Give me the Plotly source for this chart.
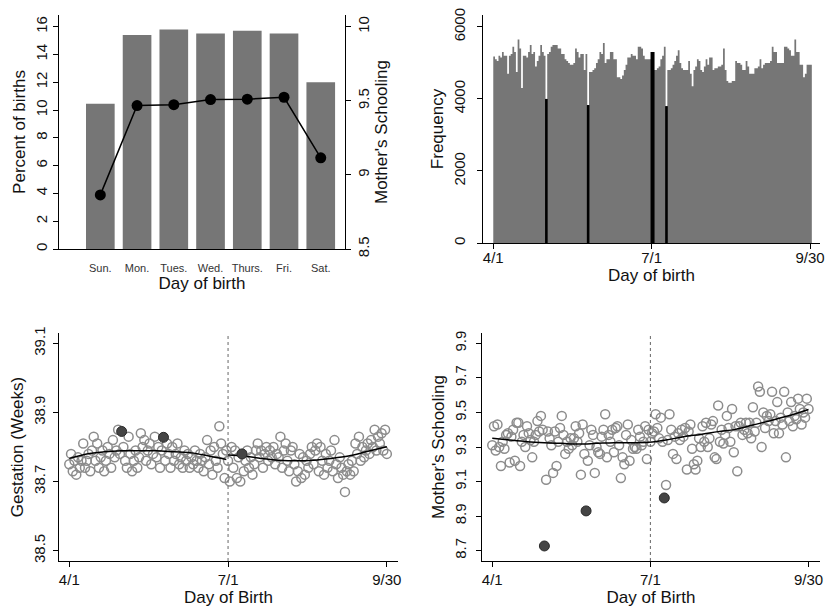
import plotly.graph_objects as go

# ---------------- data ----------------
weekdays = ["Sun.", "Mon.", "Tues.", "Wed.", "Thurs.", "Fri.", "Sat."]
pct_births = [10.45, 15.4, 15.8, 15.5, 15.7, 15.5, 12.0]
mother_school_wd = [8.865, 9.468, 9.474, 9.508, 9.511, 9.524, 9.115]

date_ticks = [0, 91, 182]
date_labels = ["4/1", "7/1", "9/30"]

freq = [
    5180, 5100, 5050, 5200, 5150, 5300, 5200, 5200, 4700, 5200,
    5250, 5450, 5300, 4750, 5650, 5400, 4300, 5200, 5200, 5150,
    5300, 5500, 5250, 5300, 4900, 5050, 5200, 5500, 5300, 5200,
    4000, 5250, 5300, 5450, 5500, 5500, 5500, 5400, 5400, 5250,
    5250, 5100, 5050, 5000, 4950, 4950, 5000, 5400, 5300, 5150,
    5250, 5250, 4800, 5250, 3830, 4750, 4750, 4800, 4850, 5000,
    5100, 5300, 5250, 5550, 5000, 5100, 5100, 5300, 5300, 5100,
    5100, 4600, 4600, 4550, 4650, 4800, 4950, 5150, 5150, 5250,
    5200, 5200, 5100, 5450, 5450, 5400, 5200, 5100, 5100, 5100,
    5100, 5300, 4800, 4800, 4850, 4900, 5100, 5200, 5450, 3800,
    4800, 4800, 4850, 4950, 5050, 5200, 5350, 5000, 4850, 4800,
    4800, 4800, 5050, 4700, 4350, 4800, 4900, 5100, 5050, 4800,
    4750, 4900, 5100, 4950, 5150, 5150, 4800, 4850, 4850, 4900,
    4900, 4950, 5400, 4800, 4500, 4450, 4450, 4500, 4500, 5050,
    5000, 5000, 4950, 4800, 4800, 5050, 4900, 4700, 4700, 4700,
    4850, 4850, 4900, 5100, 4850, 4950, 5000, 5000, 5000, 5050,
    5450, 5300, 5300, 5000, 5000, 5000, 5000, 5450, 5450, 5400,
    5350, 5200, 5200, 5650, 5300, 5300, 4950, 4950, 4600, 4700,
    4950, 4950, 4950,
]
highlight_days = [30, 54, 99]
cutoff_day = 91
scatter_special_days = [30, 54, 99]

gestation = [
    38.75, 38.78, 38.73, 38.76, 38.72, 38.77, 38.74, 38.76, 38.81, 38.74,
    38.76, 38.78, 38.73, 38.79, 38.83, 38.76, 38.81, 38.74, 38.77, 38.79,
    38.73, 38.76, 38.80, 38.78, 38.74, 38.82, 38.77, 38.79, 38.85, 38.78,
    38.845, 38.80, 38.76, 38.74, 38.83, 38.78, 38.73, 38.76, 38.79, 38.74,
    38.77, 38.84, 38.80, 38.82, 38.76, 38.79, 38.81, 38.75, 38.78, 38.83,
    38.77, 38.80, 38.74, 38.79, 38.828, 38.76, 38.81, 38.78, 38.74, 38.80,
    38.76, 38.78, 38.81, 38.75, 38.77, 38.74, 38.79, 38.76, 38.78, 38.74,
    38.77, 38.75, 38.79, 38.76, 38.74, 38.78, 38.76, 38.73, 38.77, 38.82,
    38.75, 38.79, 38.72, 38.80, 38.76, 38.74, 38.86, 38.81, 38.78, 38.71,
    38.79, 38.76, 38.70, 38.80, 38.74, 38.79, 38.71, 38.77, 38.70, 38.78,
    38.73, 38.76, 38.79, 38.74, 38.77, 38.72, 38.75, 38.79, 38.81, 38.77,
    38.79, 38.74, 38.78, 38.80, 38.76, 38.79, 38.77, 38.80, 38.75, 38.78,
    38.77, 38.83, 38.74, 38.79, 38.81, 38.76, 38.73, 38.79, 38.80, 38.75,
    38.70, 38.73, 38.78, 38.71, 38.77, 38.72, 38.76, 38.74, 38.78, 38.80,
    38.75, 38.79, 38.81, 38.73, 38.80, 38.76, 38.72, 38.78, 38.74, 38.76,
    38.79, 38.73, 38.82, 38.75, 38.71, 38.77, 38.74, 38.72, 38.67, 38.73,
    38.75, 38.72, 38.76, 38.73, 38.81, 38.78, 38.83, 38.76, 38.80, 38.77,
    38.79, 38.81, 38.78, 38.82, 38.80, 38.85, 38.79, 38.83, 38.81, 38.84,
    38.79, 38.85, 38.78,
]
gest_fit_left_days = [0, 10, 20, 30, 40, 50, 60, 70, 80, 90]
gest_fit_left = [38.767, 38.780, 38.786, 38.789, 38.789, 38.789, 38.786, 38.783, 38.774, 38.764]
gest_fit_right_days = [91, 100, 110, 120, 130, 140, 150, 160, 170, 182]
gest_fit_right = [38.777, 38.774, 38.767, 38.762, 38.760, 38.762, 38.767, 38.774, 38.786, 38.801]

schooling = [
    9.31, 9.42, 9.28, 9.43, 9.30, 9.19, 9.33, 9.29, 9.37, 9.38,
    9.21, 9.36, 9.40, 9.22, 9.44, 9.44, 9.19, 9.33, 9.37, 9.30,
    9.42, 9.38, 9.34, 9.24, 9.33, 9.37, 9.45, 9.39, 9.48, 9.40,
    8.727, 9.11, 9.39, 9.35, 9.31, 9.15, 9.39, 9.19, 9.33, 9.41,
    9.48, 9.37, 9.26, 9.33, 9.29, 9.35, 9.31, 9.35, 9.42, 9.33,
    9.38, 9.14, 9.43, 9.26, 8.93, 9.22, 9.31, 9.40, 9.37, 9.15,
    9.30, 9.27, 9.26, 9.36, 9.40, 9.49, 9.24, 9.37, 9.33, 9.40,
    9.27, 9.41, 9.42, 9.31, 9.12, 9.24, 9.20, 9.37, 9.43, 9.22,
    9.34, 9.29, 9.30, 9.29, 9.40, 9.36, 9.31, 9.33, 9.42, 9.23,
    9.40, 9.33, 9.38, 9.39, 9.49, 9.41, 9.35, 9.47, 9.33, 9.005,
    9.08, 9.34, 9.49, 9.40, 9.26, 9.36, 9.23, 9.38, 9.34, 9.40,
    9.36, 9.41, 9.17, 9.39, 9.43, 9.29, 9.20, 9.17, 9.22, 9.35,
    9.30, 9.42, 9.33, 9.44, 9.30, 9.35, 9.43, 9.45, 9.24, 9.23,
    9.54, 9.33, 9.40, 9.32, 9.37, 9.48, 9.41, 9.33, 9.52, 9.27,
    9.42, 9.16, 9.42, 9.44, 9.37, 9.40, 9.44, 9.38, 9.44, 9.35,
    9.53, 9.39, 9.44, 9.65, 9.62, 9.30, 9.50, 9.41, 9.48, 9.45,
    9.49, 9.62, 9.38, 9.45, 9.56, 9.38, 9.47, 9.43, 9.62, 9.24,
    9.50, 9.45, 9.56, 9.42, 9.48, 9.46, 9.58, 9.52, 9.43, 9.50,
    9.47, 9.58, 9.52,
]
school_fit_days = [0, 10, 20, 30, 40, 50, 60, 70, 80, 90, 100, 110, 120, 130, 140, 150, 160, 170, 182]
school_fit = [9.350, 9.340, 9.331, 9.325, 9.321, 9.317, 9.321, 9.325, 9.325, 9.327,
              9.340, 9.360, 9.373, 9.389, 9.402, 9.427, 9.452, 9.479, 9.517]

# ---------------- layout helpers ----------------
W, H = 831, 614
FONT = "Liberation Sans, Arial, sans-serif"
BAR_GRAY = "#767676"
CIRC_GRAY = "#8c8c8c"


def xd(a, b):
    return [a / W, b / W]


def yd(top, bottom):
    return [1 - bottom / H, 1 - top / H]


def ax(**kw):
    base = dict(showline=True, linecolor="black", linewidth=1.3, ticks="outside",
                ticklen=5, tickcolor="black", tickwidth=1.2, showgrid=False, zeroline=False,
                automargin=False, tickfont=dict(family=FONT, size=15, color="#111"))
    base.update(kw)
    return base


days = list(range(len(freq)))

fig = go.Figure()

# Panel 1: weekday bars + schooling line
fig.add_trace(go.Bar(x=weekdays, y=pct_births, marker=dict(color=BAR_GRAY, line=dict(width=0)),
                     xaxis="x", yaxis="y", showlegend=False))
fig.add_trace(go.Scatter(x=weekdays, y=mother_school_wd, mode="lines+markers",
                         line=dict(color="black", width=1.5),
                         marker=dict(color="black", size=11),
                         xaxis="x", yaxis="y5", showlegend=False))

# Panel 2: histogram (one bin per day, drawn as a filled step outline)
step_x = days + [len(days)]
step_y = freq + [freq[-1]]
fig.add_trace(go.Scatter(x=step_x, y=step_y, mode="lines", line=dict(shape="hv", width=0, color=BAR_GRAY),
                         fill="tozeroy", fillcolor=BAR_GRAY,
                         xaxis="x2", yaxis="y2", showlegend=False))
hx, hy = [], []
for d in highlight_days:
    hx += [d + 0.5, d + 0.5, None]
    hy += [0, freq[d], None]
fig.add_trace(go.Scatter(x=hx, y=hy, mode="lines", line=dict(color="black", width=2.6),
                         xaxis="x2", yaxis="y2", showlegend=False))
fig.add_trace(go.Scatter(x=[cutoff_day + 0.5, cutoff_day + 0.5], y=[0, freq[cutoff_day]], mode="lines",
                         line=dict(color="black", width=4),
                         xaxis="x2", yaxis="y2", showlegend=False))

# Panel 3: gestation
reg_days = [d for d in days if d not in scatter_special_days]
fig.add_trace(go.Scatter(x=reg_days, y=[gestation[d] for d in reg_days], mode="markers",
                         marker=dict(symbol="circle-open", size=9, color=CIRC_GRAY, line=dict(width=1.5)),
                         xaxis="x3", yaxis="y3", showlegend=False))
fig.add_trace(go.Scatter(x=gest_fit_left_days, y=gest_fit_left, mode="lines",
                         line=dict(color="black", width=1.5, shape="spline"),
                         xaxis="x3", yaxis="y3", showlegend=False))
fig.add_trace(go.Scatter(x=gest_fit_right_days, y=gest_fit_right, mode="lines",
                         line=dict(color="black", width=1.5, shape="spline"),
                         xaxis="x3", yaxis="y3", showlegend=False))
fig.add_trace(go.Scatter(x=scatter_special_days, y=[gestation[d] for d in scatter_special_days],
                         mode="markers",
                         marker=dict(size=10, color="#454545", line=dict(color="#2a2a2a", width=1)),
                         xaxis="x3", yaxis="y3", showlegend=False))

# Panel 4: schooling
fig.add_trace(go.Scatter(x=reg_days, y=[schooling[d] for d in reg_days], mode="markers",
                         marker=dict(symbol="circle-open", size=9, color=CIRC_GRAY, line=dict(width=1.5)),
                         xaxis="x4", yaxis="y4", showlegend=False))
fig.add_trace(go.Scatter(x=school_fit_days, y=school_fit, mode="lines",
                         line=dict(color="black", width=1.5, shape="spline"),
                         xaxis="x4", yaxis="y4", showlegend=False))
fig.add_trace(go.Scatter(x=scatter_special_days, y=[schooling[d] for d in scatter_special_days],
                         mode="markers",
                         marker=dict(size=10, color="#454545", line=dict(color="#2a2a2a", width=1)),
                         xaxis="x4", yaxis="y4", showlegend=False))

title_font = dict(family=FONT, size=17, color="#111")

fig.update_layout(
    width=W, height=H, margin=dict(l=0, r=0, t=0, b=0, autoexpand=False),
    paper_bgcolor="white", plot_bgcolor="white", bargap=0.22,
    font=dict(family=FONT),
    # panel 1
    xaxis=ax(ticks="", tickfont=dict(family=FONT, size=11, color="#333"), ticklabelstandoff=9,
             domain=xd(59, 345), anchor="y", range=[-1.125, 6.66],
             title=dict(text="Day of birth", font=title_font, standoff=2)),
    yaxis=ax(domain=yd(15, 249), anchor="x", range=[0, 16.84],
             tickvals=[0, 2, 4, 6, 8, 10, 12, 14, 16], tickangle=-90,
             title=dict(text="Percent of births", font=title_font, standoff=2)),
    yaxis5=ax(overlaying="y", side="right", anchor="x", range=[8.5, 10.079],
              tickvals=[8.5, 9, 9.5, 10], ticktext=["8.5", "9", "9.5", "10"], tickangle=-90,
              title=dict(text="Mother's Schooling", font=title_font, standoff=2)),
    # panel 2
    xaxis2=ax(domain=xd(483, 820), anchor="y2", range=[-5.9, 187.7], ticklabelstandoff=-4,
              tickvals=date_ticks, ticktext=date_labels,
              title=dict(text="Day of birth", font=title_font, standoff=0)),
    yaxis2=ax(domain=yd(15, 243), anchor="x2", range=[0, 6330], ticklabelstandoff=6,
              tickvals=[0, 2000, 4000, 6000], tickangle=-90,
              title=dict(text="Frequency", font=title_font, standoff=2)),
    # panel 3
    xaxis3=ax(domain=xd(59, 398), anchor="y3", range=[-5.9, 188.4],
              tickvals=date_ticks, ticktext=date_labels,
              title=dict(text="Day of Birth", font=title_font, standoff=0)),
    yaxis3=ax(domain=yd(333, 561), anchor="x3", range=[38.47, 39.13], ticklabelstandoff=2,
              tickvals=[38.5, 38.7, 38.9, 39.1], tickangle=-90,
              title=dict(text="Gestation (Weeks)", font=title_font, standoff=2)),
    # panel 4
    xaxis4=ax(domain=xd(482, 820), anchor="y4", range=[-5.9, 188.6],
              tickvals=date_ticks, ticktext=date_labels,
              title=dict(text="Day of Birth", font=title_font, standoff=0)),
    yaxis4=ax(domain=yd(333, 561), anchor="x4", range=[8.64, 9.96], ticklabelstandoff=4,
              tickvals=[8.7, 8.9, 9.1, 9.3, 9.5, 9.7, 9.9], tickangle=-90,
              title=dict(text="Mother's Schooling", font=title_font, standoff=2)),
    shapes=[
        dict(type="line", xref="x3", yref="y3 domain", x0=91, x1=91, y0=0, y1=1,
             line=dict(color="#666", width=1, dash="dot")),
        dict(type="line", xref="x4", yref="y4 domain", x0=91, x1=91, y0=0, y1=1,
             line=dict(color="#666", width=1, dash="dot")),
    ],
)

fig.write_html("out.html", config={"displayModeBar": False},
               post_script="document.body.style.margin='0';document.body.style.overflow='hidden';")
